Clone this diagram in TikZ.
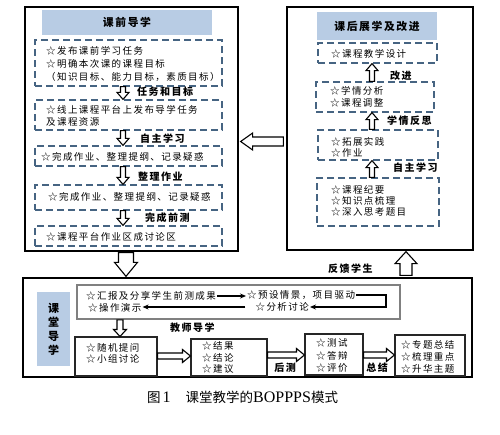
\documentclass[tikz,border=0pt]{standalone}
\usepackage{fontspec}
\newfontfamily\cjk{Noto Sans CJK SC}[LetterSpace=15]
\newfontfamily\cjkc{Noto Sans CJK SC}
\newfontfamily\latc{Liberation Serif}
\usetikzlibrary{calc,arrows.meta}
\definecolor{headblue}{RGB}{184,204,228}
\definecolor{dashblue}{RGB}{70,100,130}
\newcommand\vblock[5]{%
  \draw[blockarr] let \p1=(#1), \p2=(#2), \n1={2*(\y2>\y1)-1} in
   ({\x1-#3pt},{\y1}) -- ({\x1-#3pt},{\y2-(\n1)*#5pt}) -- ({\x1-#4pt},{\y2-(\n1)*#5pt}) -- ({\x1},{\y2})
   -- ({\x1+#4pt},{\y2-(\n1)*#5pt}) -- ({\x1+#3pt},{\y2-(\n1)*#5pt}) -- ({\x1+#3pt},{\y1}) -- cycle;}
\newcommand\hblock[5]{%
  \draw[blockarr] let \p1=(#1), \p2=(#2), \n1={2*(\x2>\x1)-1} in
   ({\x1},{\y1-#3pt}) -- ({\x2-(\n1)*#5pt},{\y1-#3pt}) -- ({\x2-(\n1)*#5pt},{\y1-#4pt}) -- ({\x2},{\y1})
   -- ({\x2-(\n1)*#5pt},{\y1+#4pt}) -- ({\x2-(\n1)*#5pt},{\y1+#3pt}) -- ({\x1},{\y1+#3pt}) -- cycle;}
\tikzset{
  outerbox/.style={draw=black, line width=1.3pt, inner sep=0pt},
  headbox/.style={fill=headblue, draw=none, inner sep=0pt, font=\cjk\bfseries\fontsize{10.8}{12}\selectfont},
  dbox/.style={draw=dashblue, line width=1.2pt, dash pattern=on 7pt off 4pt, inner sep=0pt},
  sbox/.style={draw=black!85, line width=1.1pt, inner sep=0pt},
  gbox/.style={draw=black!50, line width=1.8pt, inner sep=0pt},
  txt/.style={font=\cjk\fontsize{9.5}{12}\selectfont, inner sep=0pt, anchor=west, align=left},
  lbl/.style={font=\cjk\bfseries\fontsize{10}{12}\selectfont, inner sep=0pt, anchor=west},
  clbl/.style={font=\cjk\bfseries\fontsize{10}{12}\selectfont, inner sep=0pt},
  blockarr/.style={draw=black, fill=white, line width=1.1pt, line join=miter},
  thinarr/.style={-{Stealth[length=6pt,width=5pt]}, line width=1.1pt}
}
\begin{document}
\begin{tikzpicture}[x=1pt,y=-1pt]
\useasboundingbox (0,0) rectangle (500,434);
\fill[white] (0,0) rectangle (500,434);

% ---- left: 课前导学
\node[outerbox, minimum width=213pt, minimum height=244pt] (Lout) at (131.5,129) {};
\node[headbox, minimum width=170pt, minimum height=25pt] (Lhead) at (127,22.5) {课前导学};
\node[dbox, minimum width=187pt, minimum height=46pt] (LB1) at (128.5,63) {};
\node[dbox, minimum width=187pt, minimum height=30pt] (LB2) at (128.5,115) {};
\node[dbox, minimum width=187pt, minimum height=20pt] (LB3) at (128.5,156) {};
\node[dbox, minimum width=187pt, minimum height=25pt] (LB4) at (128.5,197.5) {};
\node[dbox, minimum width=187pt, minimum height=20pt] (LB5) at (128.5,236) {};
\node[txt, font=\cjk\fontsize{9.5}{13}\selectfont] (t1) at (46,64) {☆发布课前学习任务\\☆明确本次课的课程目标\\（知识目标、能力目标，素质目标）};
\node[txt] (t2) at (46,116) {☆线上课程平台上发布导学任务\\及课程资源};
\node[txt] (t3) at (41,156.5) {☆完成作业、整理提纲、记录疑惑};
\node[txt] (t4) at (48,197) {☆完成作业、整理提纲、记录疑惑};
\node[txt] (t5) at (46,237) {☆课程平台作业区成讨论区};
\coordinate (a1s) at (123,0 |- LB1.south); \coordinate (a1e) at (123,0 |- LB2.north);
\coordinate (a2s) at (123,0 |- LB2.south); \coordinate (a2e) at (123,0 |- LB3.north);
\coordinate (a3s) at (123,0 |- LB3.south); \coordinate (a3e) at (123,0 |- LB4.north);
\coordinate (a4s) at (123,0 |- LB4.south); \coordinate (a4e) at (123,0 |- LB5.north);
\vblock{a1s}{a1e}{2.5}{6}{7}
\vblock{a2s}{a2e}{2.5}{6}{7}
\vblock{a3s}{a3e}{2.5}{6}{7}
\vblock{a4s}{a4e}{2.5}{6}{7}
\node[lbl] (l1) at (137,92) {任务和目标};
\node[lbl] (l2) at (140,139) {自主学习};
\node[lbl] (l3) at (138,177) {整理作业};
\node[lbl] (l4) at (145,218) {完成前测};

% ---- right: 课后展学及改进
\node[outerbox, minimum width=186pt, minimum height=243pt] (Rout) at (380,128.5) {};
\node[headbox, minimum width=120pt, minimum height=28pt] (Rhead) at (377,26) {课后展学及改进};
\node[dbox, minimum width=119pt, minimum height=20pt] (RB1) at (377.5,53) {};
\node[dbox, minimum width=118pt, minimum height=30pt] (RB2) at (375,97) {};
\node[dbox, minimum width=120pt, minimum height=30pt] (RB3) at (378,145) {};
\node[dbox, minimum width=122pt, minimum height=48pt] (RB4) at (378,202) {};
\node[txt] (r1) at (331,54) {☆课程教学设计};
\node[txt] (r2) at (330,96.5) {☆学情分析\\☆课程调整};
\node[txt, font=\cjk\fontsize{9.5}{11}\selectfont] (r3) at (331,147.5) {☆拓展实践\\☆作业};
\node[txt, font=\cjk\fontsize{9.5}{11}\selectfont] (r4) at (331,201) {☆课程纪要\\☆知识点梳理\\☆深入思考题目};
\coordinate (b1s) at (372,0 |- RB2.north); \coordinate (b1e) at (372,0 |- RB1.south);
\coordinate (b2s) at (372,0 |- RB3.north); \coordinate (b2e) at (372,0 |- RB2.south);
\coordinate (b3s) at (372,0 |- RB4.north); \coordinate (b3e) at (372,0 |- RB3.south);
\vblock{b1s}{b1e}{2.5}{6}{7}
\vblock{b2s}{b2e}{2.5}{6}{7}
\vblock{b3s}{b3e}{2.5}{6}{7}
\node[lbl] (l5) at (390,76) {改进};
\node[lbl] (l6) at (387,121) {学情反思};
\node[lbl] (l7) at (393,168) {自主学习};

% big left arrow between the two boxes
\coordinate (bl1) at ($(Rout.west |- 0,141.5)+(-3,0)$);
\coordinate (bl2) at ($(Lout.east |- 0,141.5)+(2,0)$);
\hblock{bl1}{bl2}{4.5}{8.5}{12}

% ---- bottom: 课堂导学
\node[outerbox, minimum width=449pt, minimum height=99pt] (Bout) at (247.5,327.5) {};
\node[fill=headblue, inner sep=0pt, minimum width=33pt, minimum height=74pt, align=center,
      font=\cjk\bfseries\fontsize{11}{14}\selectfont] (Bblue) at (53.5,329) {课\\堂\\导\\学};
\node[gbox, minimum width=323pt, minimum height=34pt] (T) at (238.5,302) {};
\node[txt] (n1) at (86,296) {☆汇报及分享学生前测成果};
\node[txt] (n2) at (247,295) {☆预设情景，项目驱动};
\node[txt, anchor=east] (n3) at (309,307) {☆分析讨论};
\node[txt] (n4) at (88,308) {☆操作演示};
\draw[thinarr] ([xshift=1pt]n1.east) -- ([xshift=-1pt]n1.east -| n2.west);
\coordinate (cr) at (386,0 |- n3.east);
\draw[thinarr] ([xshift=1pt]n2.east) -| (cr) -- ([xshift=1pt]n3.east);
\coordinate (lft) at ([xshift=-10pt]n3.west);
\draw[thinarr] (lft) -- ([xshift=1pt]lft -| n4.east);

\node[sbox, minimum width=82pt, minimum height=39pt] (R1) at (116,356.5) {};
\node[sbox, minimum width=76pt, minimum height=37pt] (B2) at (229,357.5) {};
\node[sbox, minimum width=58pt, minimum height=41pt] (B3) at (334,354.5) {};
\node[sbox, minimum width=70pt, minimum height=41pt] (B4) at (430,355.5) {};
\node[txt, font=\cjk\fontsize{9.5}{11}\selectfont] (s1) at (86,353.5) {☆随机提问\\☆小组讨论};
\node[txt, font=\cjk\fontsize{9.5}{11.5}\selectfont] (s2) at (202,357.5) {☆结果\\☆结论\\☆建议};
\node[txt, font=\cjk\fontsize{9.5}{12.5}\selectfont] (s3) at (316,355.5) {☆测试\\☆答辩\\☆评价};
\node[txt, font=\cjk\fontsize{9.5}{12}\selectfont] (s4) at (401,357) {☆专题总结\\☆梳理重点\\☆升华主题};

\coordinate (c1s) at (120,0 |- T.south); \coordinate (c1e) at (120,0 |- R1.north);
\vblock{c1s}{c1e}{3}{6.5}{7}
\node[lbl] (l8) at (170,328) {教师导学};
\coordinate (h1s) at (R1.east |- 0,356); \coordinate (h1e) at (B2.west |- 0,356);
\coordinate (h2s) at (B2.east |- 0,355); \coordinate (h2e) at (B3.west |- 0,355);
\coordinate (h3s) at (B3.east |- 0,355); \coordinate (h3e) at (B4.west |- 0,355);
\hblock{h1s}{h1e}{3}{6.5}{8}
\hblock{h2s}{h2e}{3}{6.5}{8}
\hblock{h3s}{h3e}{3}{6.5}{8}
\node[clbl] (l9) at (285,368) {后测};
\node[clbl] (l10) at (377,368) {总结};

% big arrows between top and bottom
\coordinate (bd1) at ($(126,0 |- Lout.south)+(0,1)$);
\coordinate (bd2) at ($(126,0 |- Bout.north)+(0,-1)$);
\vblock{bd1}{bd2}{7.5}{11.5}{14}
\coordinate (bu1) at ($(406,0 |- Bout.north)+(0,-2)$);
\coordinate (bu2) at ($(406,0 |- Rout.south)+(0,1)$);
\vblock{bu1}{bu2}{6}{11}{12}
\node[lbl] (l11) at (328,269) {反馈学生};

% caption
\node[anchor=west, inner sep=0pt, font=\cjkc\fontsize{13.5}{16}\selectfont] (cap) at (147,397)
  {图\hspace{2pt}{\latc\fontsize{16}{16}\selectfont 1}\hspace{15pt}课堂教学的{\latc\fontsize{16}{16}\selectfont BOPPPS}模式};
\end{tikzpicture}
\end{document}
